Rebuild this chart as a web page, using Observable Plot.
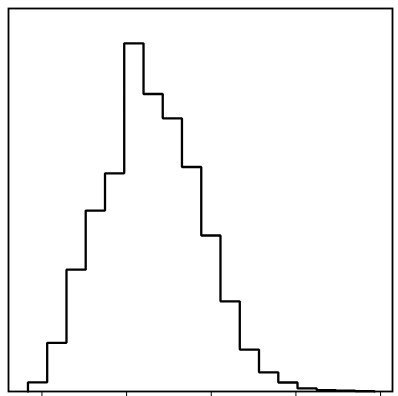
<!DOCTYPE html>
<html>
<head>
<meta charset="utf-8">
<script src="https://cdn.jsdelivr.net/npm/d3@7"></script>
<script src="https://cdn.jsdelivr.net/npm/@observablehq/plot@0.6"></script>
<style>
  html, body { margin: 0; padding: 0; background: #fff; }
  #chart svg { overflow: visible; }
</style>
</head>
<body>
<div id="chart"></div>
<script>
// Bin edges (x units; ticks at 0..4, labels not visible in reference)
const binEdges = [-0.165, 0.062, 0.290, 0.517, 0.745, 0.972, 1.200, 1.427, 1.654, 1.882, 2.109, 2.337, 2.564, 2.792, 3.019, 3.246, 3.474, 3.701, 3.928];
// Counts per bin
const binCounts = [45, 238, 596, 885, 1067, 1703, 1455, 1336, 1098, 763, 441, 205, 94, 44, 15, 7, 4, 2];
const tickValues = [0, 1, 2, 3, 4];
const xDomain = [-0.395, 4.141];

// Step outline built from the bins
const outline = [{x: binEdges[0], y: 0}];
binCounts.forEach((c, i) => {
  outline.push({x: binEdges[i], y: c});
  outline.push({x: binEdges[i + 1], y: c});
});
outline.push({x: binEdges[binEdges.length - 1], y: 0});

const yMax = d3.max(binCounts) * 1.1;

const chart = Plot.plot({
  width: 398,
  height: 396,
  marginLeft: 8,
  marginRight: 6,
  marginTop: 8,
  marginBottom: 5,
  style: {background: "#fff", color: "#000"},
  x: {domain: xDomain, ticks: tickValues, tickSize: 6, tickFormat: () => "", label: null},
  y: {domain: [0, yMax], axis: null},
  marks: [
    Plot.line(outline, {x: "x", y: "y", stroke: "#000", strokeWidth: 2.3, strokeLinejoin: "miter"}),
    Plot.frame({stroke: "#000", strokeWidth: 1.8})
  ]
});
document.getElementById("chart").appendChild(chart);
</script>
</body>
</html>
